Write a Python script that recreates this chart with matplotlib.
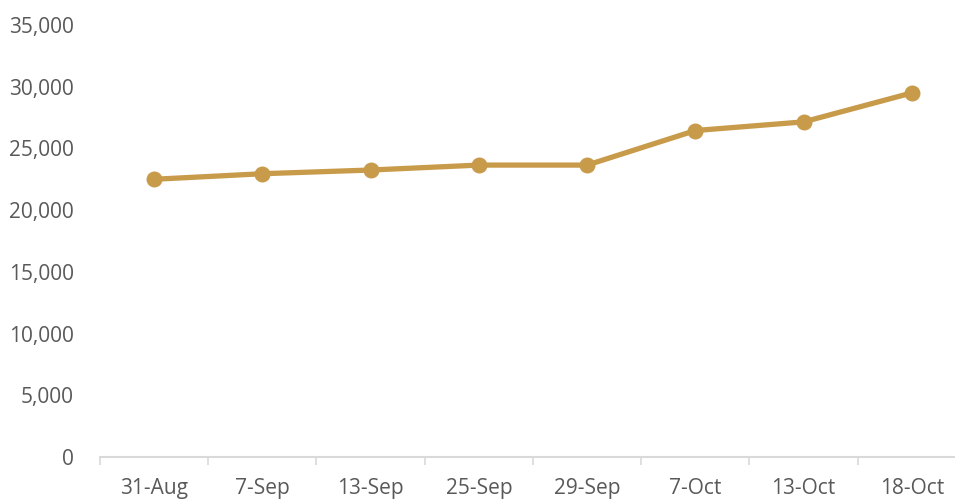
import matplotlib.pyplot as plt
import matplotlib.ticker as mticker
import numpy as np

plt.rcParams['font.family'] = ['Open Sans', 'DejaVu Sans']

# Data
dates = ['31-Aug', '7-Sep', '13-Sep', '25-Sep', '29-Sep', '7-Oct', '13-Oct', '18-Oct']
values = [22500, 22950, 23250, 23650, 23650, 26450, 27150, 29500]

line_color = '#C89B4B'
text_color = '#595959'
axis_color = '#D9D9D9'

fig = plt.figure(figsize=(9.55, 4.99), dpi=100)
ax = fig.add_axes([0.1047, 0.0842, 0.9068, 0.8657])

x = np.arange(len(dates))
ax.plot(x, values, color=line_color, linewidth=3.8, marker='o', markersize=10.5,
        solid_capstyle='round', zorder=3)

ax.set_xlim(-0.5, len(dates) - 0.5)
ax.set_ylim(0, 35000)

# y axis
ax.yaxis.set_major_locator(mticker.MultipleLocator(5000))
ax.yaxis.set_major_formatter(mticker.FuncFormatter(lambda v, p: f'{int(v):,}'))
ax.tick_params(axis='y', length=0, pad=19, labelsize=15, labelcolor=text_color)

# x axis: labels at categories, tick marks between them
ax.set_xticks(x)
ax.set_xticklabels(dates)
ax.set_xticks(np.arange(-0.5, len(dates), 1), minor=True)
ax.tick_params(axis='x', which='major', length=0, pad=15, labelsize=15, labelcolor=text_color)
ax.tick_params(axis='x', which='minor', length=6, width=1.2, color=axis_color)

for side in ['top', 'right', 'left']:
    ax.spines[side].set_visible(False)
ax.spines['bottom'].set_color(axis_color)
ax.spines['bottom'].set_linewidth(1.5)

fig.savefig('out.png', dpi=100)
